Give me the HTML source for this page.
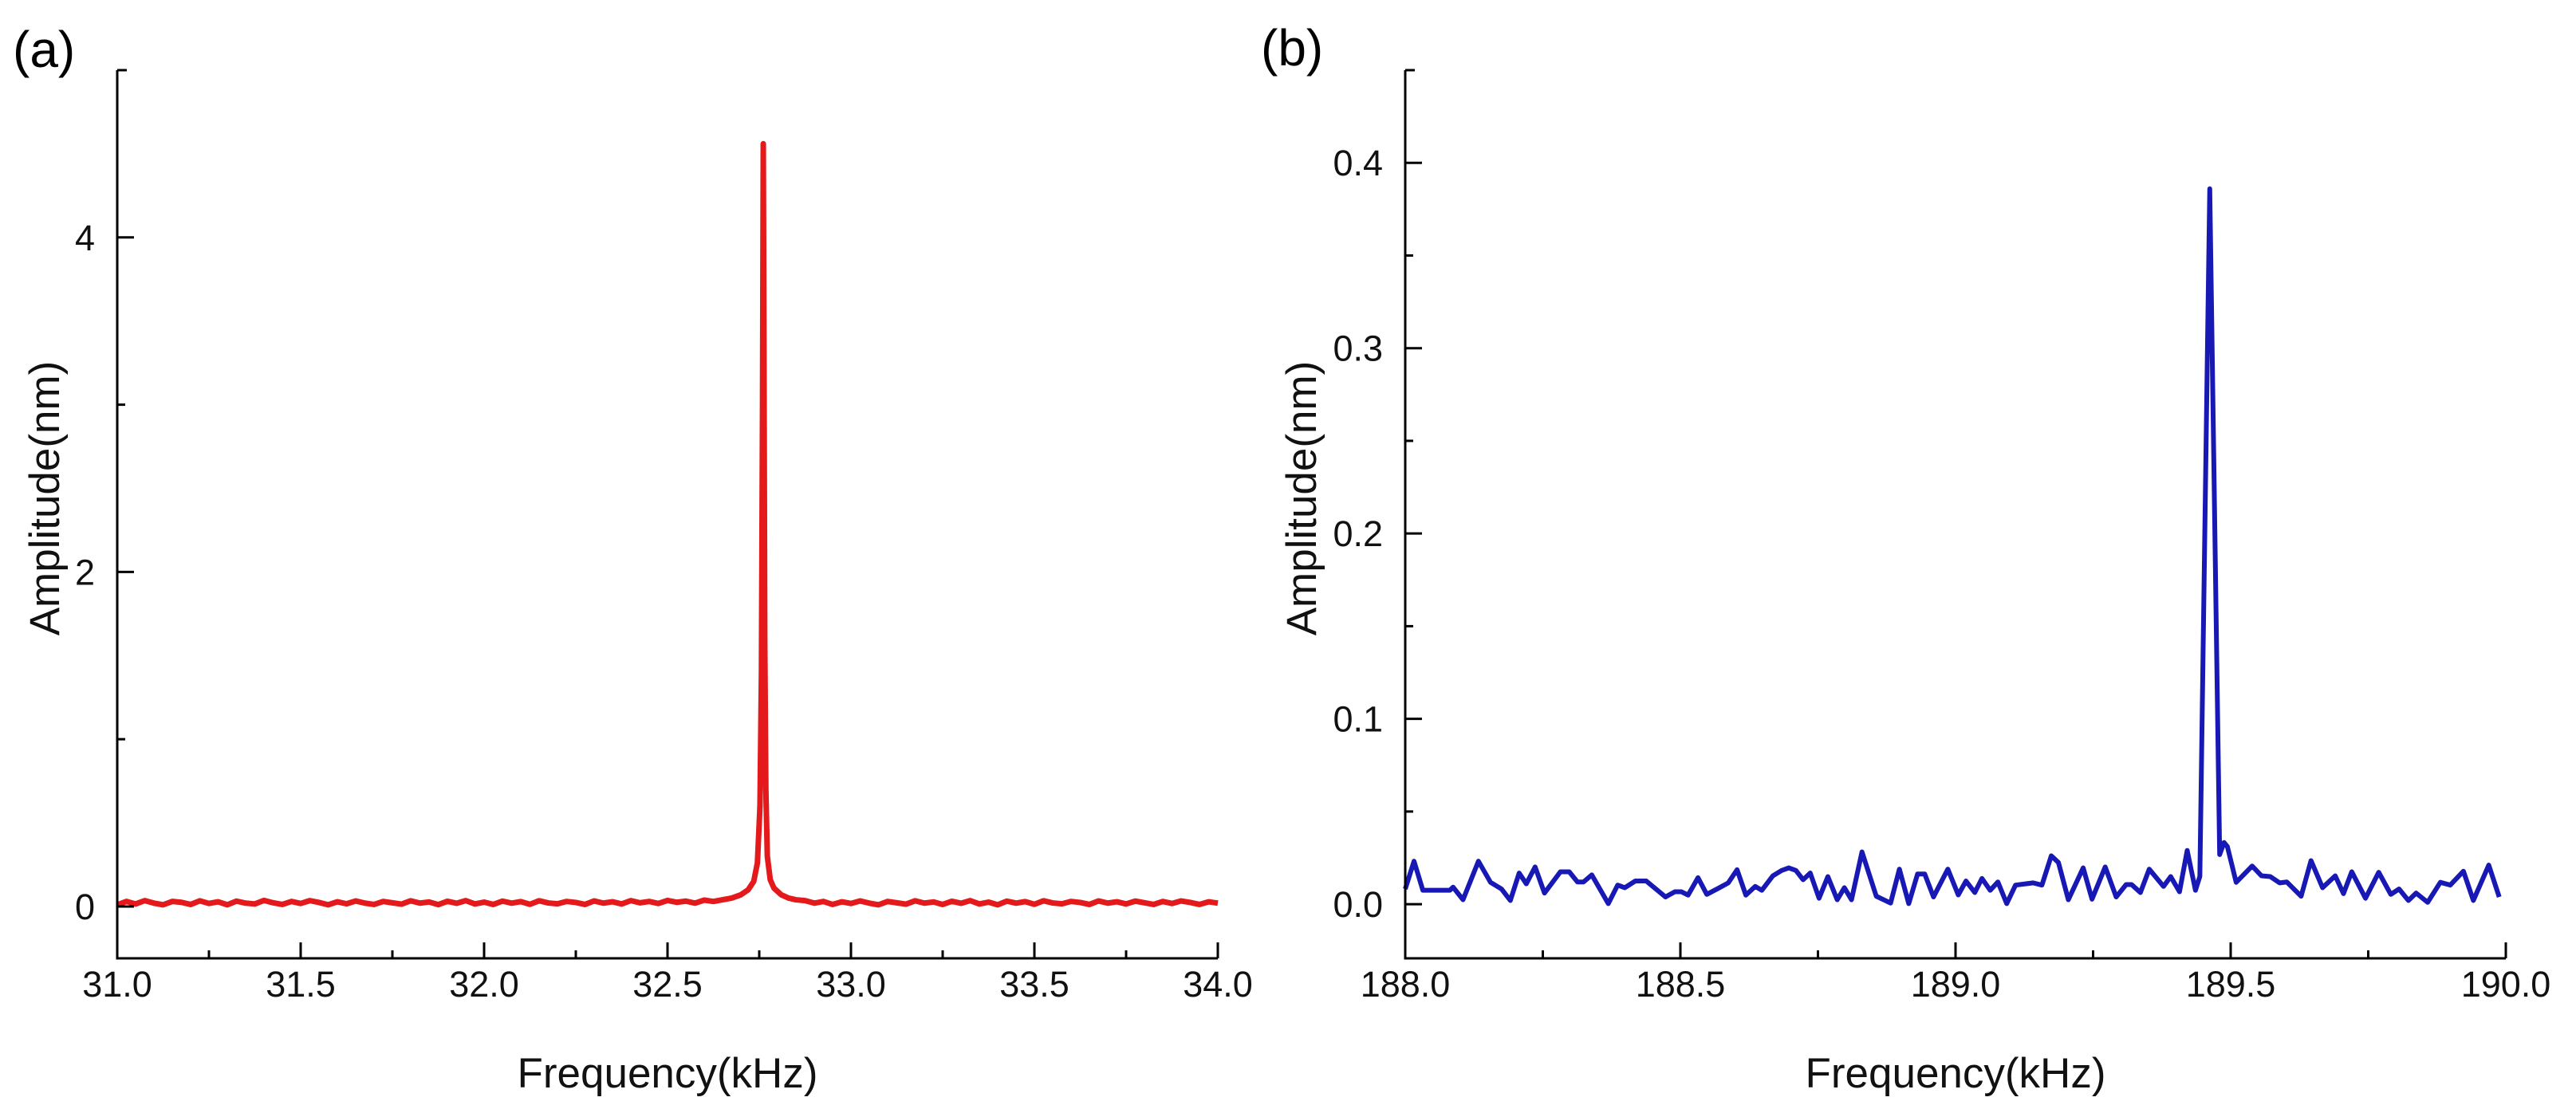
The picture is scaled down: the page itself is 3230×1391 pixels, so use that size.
<!DOCTYPE html>
<html><head><meta charset="utf-8"><style>
html,body{margin:0;padding:0;background:#fff;}
svg{display:block;font-family:"Liberation Sans",Arial,sans-serif;}
</style></head><body>
<svg id="fig" width="3230" height="1391" viewBox="0 0 3230 1391" xmlns="http://www.w3.org/2000/svg">
<rect width="3230" height="1391" fill="#fff"/>
<text x="16" y="84" font-size="64" fill="#000">(a)</text>
<text x="1581" y="82" font-size="64" fill="#000">(b)</text>
<g id="pa"></g>
<g id="pb"></g>
</svg>
<script>
// ---- Panel (a) data ----
const aBaseFreqLeft = [31.000,31.025,31.050,31.075,31.100,31.125,31.150,31.175,31.200,31.225,31.250,31.275,31.300,31.325,31.350,31.375,31.400,31.425,31.450,31.475,31.500,31.525,31.550,31.575,31.600,31.625,31.650,31.675,31.700,31.725,31.750,31.775,31.800,31.825,31.850,31.875,31.900,31.925,31.950,31.975,32.000,32.025,32.050,32.075,32.100,32.125,32.150,32.175,32.200,32.225,32.250,32.275,32.300,32.325,32.350,32.375,32.400,32.425,32.450,32.475,32.500,32.525,32.550,32.575,32.600,32.625,32.650];
const aBaseAmpLeft = [0.01,0.03,0.015,0.035,0.02,0.01,0.03,0.025,0.012,0.034,0.018,0.028,0.01,0.032,0.02,0.015,0.036,0.022,0.012,0.03,0.018,0.035,0.024,0.01,0.028,0.016,0.033,0.02,0.012,0.03,0.022,0.014,0.034,0.02,0.027,0.011,0.031,0.019,0.035,0.015,0.026,0.012,0.032,0.02,0.029,0.013,0.034,0.021,0.016,0.03,0.024,0.012,0.033,0.02,0.028,0.015,0.035,0.022,0.03,0.018,0.036,0.025,0.032,0.02,0.038,0.03,0.04];
const aPeakFreq = [32.675,32.700,32.720,32.735,32.745,32.752,32.756,32.759,32.761,32.763,32.765,32.768,32.772,32.780,32.790,32.810,32.830,32.850];
const aPeakAmp  = [0.05,0.07,0.1,0.15,0.26,0.6,1.4,3.0,4.56,3.2,1.6,0.7,0.3,0.16,0.11,0.07,0.05,0.04];
const aBaseFreqRight = [32.875,32.900,32.925,32.950,32.975,33.000,33.025,33.050,33.075,33.100,33.125,33.150,33.175,33.200,33.225,33.250,33.275,33.300,33.325,33.350,33.375,33.400,33.425,33.450,33.475,33.500,33.525,33.550,33.575,33.600,33.625,33.650,33.675,33.700,33.725,33.750,33.775,33.800,33.825,33.850,33.875,33.900,33.925,33.950,33.975,34.000];
const aBaseAmpRight = [0.035,0.02,0.03,0.012,0.028,0.018,0.033,0.02,0.01,0.03,0.022,0.014,0.034,0.02,0.027,0.012,0.031,0.019,0.035,0.015,0.026,0.01,0.032,0.02,0.029,0.013,0.034,0.021,0.016,0.03,0.024,0.012,0.033,0.02,0.028,0.015,0.032,0.022,0.012,0.03,0.018,0.033,0.024,0.012,0.028,0.02];
const aXTicks = [31.0,31.5,32.0,32.5,33.0,33.5,34.0];
const aXTickLabels = ["31.0","31.5","32.0","32.5","33.0","33.5","34.0"];
const aYTicks = [0,2,4];
const aYTickLabels = ["0","2","4"];

// ---- Panel (b) data ----
const bFreq = [188.000,188.016,188.032,188.081,188.087,188.105,188.133,188.155,188.175,188.191,188.207,188.220,188.236,188.253,188.282,188.298,188.313,188.324,188.339,188.369,188.386,188.399,188.418,188.438,188.473,188.490,188.502,188.514,188.532,188.548,188.571,188.587,188.603,188.619,188.636,188.648,188.668,188.684,188.697,188.710,188.723,188.736,188.752,188.768,188.785,188.798,188.811,188.830,188.856,188.882,188.898,188.915,188.931,188.944,188.960,188.986,189.005,189.019,189.035,189.048,189.063,189.077,189.093,189.109,189.141,189.157,189.174,189.187,189.205,189.232,189.248,189.272,189.292,189.310,189.320,189.336,189.352,189.378,189.391,189.407,189.421,189.436,189.444,189.462,189.480,189.488,189.494,189.510,189.539,189.556,189.572,189.589,189.602,189.628,189.646,189.667,189.690,189.705,189.720,189.745,189.769,189.791,189.806,189.823,189.837,189.858,189.881,189.899,189.923,189.941,189.969,189.988];
const bAmp = [0.0082,0.0232,0.0075,0.0075,0.0092,0.0024,0.0232,0.0118,0.0082,0.0020,0.0168,0.0110,0.0201,0.0060,0.0175,0.0175,0.0120,0.0120,0.0158,0.0003,0.0103,0.0089,0.0125,0.0125,0.0039,0.0067,0.0067,0.0049,0.0143,0.0053,0.0089,0.0115,0.0186,0.0049,0.0096,0.0075,0.0153,0.0182,0.0196,0.0182,0.0132,0.0168,0.0032,0.0149,0.0024,0.0089,0.0024,0.0282,0.0043,0.0006,0.0189,0.0003,0.0163,0.0163,0.0039,0.0189,0.0050,0.0125,0.0063,0.0139,0.0075,0.0120,0.0003,0.0103,0.0115,0.0103,0.0261,0.0225,0.0024,0.0196,0.0027,0.0201,0.0039,0.0106,0.0106,0.0063,0.0189,0.0096,0.0149,0.0067,0.0290,0.0075,0.0150,0.386,0.0268,0.0333,0.0311,0.0118,0.0206,0.0153,0.0149,0.0115,0.0120,0.0043,0.0235,0.0089,0.0153,0.0057,0.0175,0.0032,0.0172,0.0053,0.0082,0.0020,0.0060,0.0010,0.0118,0.0103,0.0178,0.0020,0.0211,0.0039];
const bXTicks = [188.0,188.5,189.0,189.5,190.0];
const bXTickLabels = ["188.0","188.5","189.0","189.5","190.0"];
const bYTicks = [0.0,0.1,0.2,0.3,0.4];
const bYTickLabels = ["0.0","0.1","0.2","0.3","0.4"];

const NS="http://www.w3.org/2000/svg";
function mk(parent, tag, attrs){const e=document.createElementNS(NS,tag);for(const k in attrs)e.setAttribute(k,attrs[k]);parent.appendChild(e);return e;}

function drawPanel(g, cfg){
  const sx=v=>cfg.x0+(v-cfg.xmin)/(cfg.xmax-cfg.xmin)*(cfg.x1-cfg.x0);
  const sy=v=>cfg.y1-(v-cfg.ymin)/(cfg.ymax-cfg.ymin)*(cfg.y1-cfg.y0);
  let d="";
  cfg.fx.forEach((f,i)=>{d+=(i?"L":"M")+sx(f).toFixed(2)+" "+sy(cfg.fy[i]).toFixed(2)+" ";});
  const line=mk(g,"path",{d:d,fill:"none",stroke:cfg.color,"stroke-width":cfg.lw,"stroke-linejoin":"round"});
  
  
  const ya=mk(g,"line",{x1:cfg.x0,y1:cfg.y0,x2:cfg.x0,y2:cfg.y1+1.5,stroke:"#000","stroke-width":3});
  
  
  const xa=mk(g,"line",{x1:cfg.x0-1.5,y1:cfg.y1,x2:cfg.x1,y2:cfg.y1,stroke:"#000","stroke-width":3});
  
  
  const cap=mk(g,"line",{x1:cfg.x0,y1:cfg.y0,x2:cfg.x0+12,y2:cfg.y0,stroke:"#000","stroke-width":3});
  
  
  cfg.xt.forEach((v,i)=>{
    const x=sx(v);
    const t=mk(g,"line",{x1:x,y1:cfg.y1,x2:x,y2:cfg.y1-20,stroke:"#000","stroke-width":3});
    
    
    const lb=mk(g,"text",{x:x,y:cfg.y1+48,"font-size":45,"text-anchor":"middle",fill:"#111"});
    lb.textContent=cfg.xl[i];
    
    
    if(i<cfg.xt.length-1){
      const mx=sx(v+cfg.xminor);
      const m=mk(g,"line",{x1:mx,y1:cfg.y1,x2:mx,y2:cfg.y1-10,stroke:"#000","stroke-width":3});
      
      
    }
  });
  cfg.yt.forEach((v,i)=>{
    const y=sy(v);
    const t=mk(g,"line",{x1:cfg.x0,y1:y,x2:cfg.x0+21,y2:y,stroke:"#000","stroke-width":3});
    
    
    const lb=mk(g,"text",{x:cfg.x0-28,y:y+16,"font-size":45,"text-anchor":"end",fill:"#111"});
    lb.textContent=cfg.yl[i];
    
    
    const mv=v+cfg.yminor;
    if(mv<cfg.ymax){
      const my=sy(mv);
      const m=mk(g,"line",{x1:cfg.x0,y1:my,x2:cfg.x0+10,y2:my,stroke:"#000","stroke-width":3});
      
      
    }
  });
  const xt=mk(g,"text",{x:(cfg.x0+cfg.x1)/2,y:cfg.y1+162,"font-size":53,"text-anchor":"middle",fill:"#111"});
  xt.textContent="Frequency(kHz)";
  
  
  const yt=mk(g,"text",{x:0,y:0,"font-size":53,"text-anchor":"middle",fill:"#111",transform:"translate("+cfg.ytx+","+cfg.yty+") rotate(-90)"});
  yt.textContent="Amplitude(nm)";
  
  
}

drawPanel(document.getElementById('pa'),{
  name:'panel-a', x0:147,x1:1527,y0:88,y1:1202,xmin:31,xmax:34,ymin:-0.31,ymax:5.0,
  fx:aBaseFreqLeft.concat(aPeakFreq,aBaseFreqRight), fy:aBaseAmpLeft.concat(aPeakAmp,aBaseAmpRight),
  color:"#e3191b", lw:7, xt:aXTicks, xl:aXTickLabels, xminor:0.25, yt:aYTicks, yl:aYTickLabels, yminor:1,
  ytx:74, yty:625
});
drawPanel(document.getElementById('pb'),{
  name:'panel-b', x0:1762,x1:3142,y0:88,y1:1202,xmin:188,xmax:190,ymin:-0.0292,ymax:0.45,
  fx:bFreq, fy:bAmp, color:"#1818b4", lw:6, xt:bXTicks, xl:bXTickLabels, xminor:0.25, yt:bYTicks, yl:bYTickLabels, yminor:0.05,
  ytx:1650, yty:625
});
</script>
</body></html>
